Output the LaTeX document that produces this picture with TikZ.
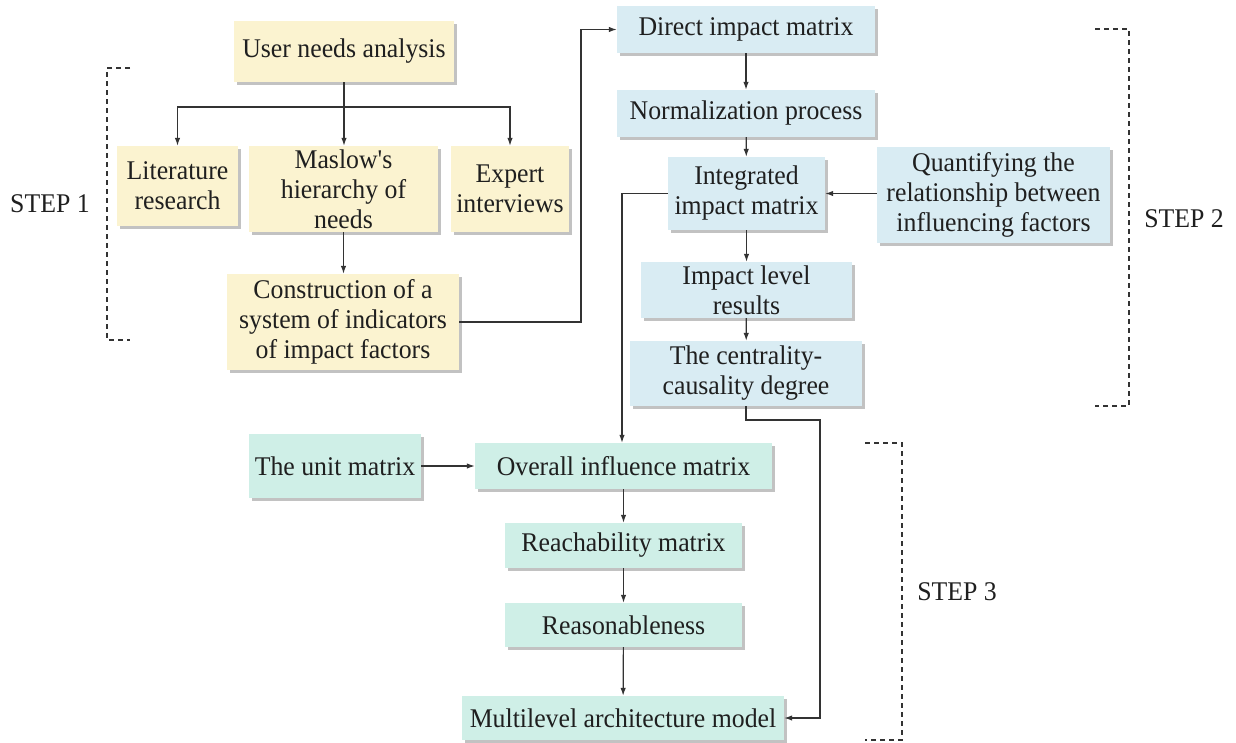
\documentclass[tikz,border=0pt]{standalone}
\usepackage{fontspec}
\setmainfont{Liberation Serif}
\newfontfamily\boxfont{Liberation Serif}[FakeStretch=0.955]
\usetikzlibrary{arrows.meta,shadows}
\definecolor{yel}{HTML}{FBF3D0}
\definecolor{blu}{HTML}{D9ECF3}
\definecolor{grn}{HTML}{CFEFE7}
\definecolor{ln}{HTML}{333333}
\begin{document}
\begin{tikzpicture}[x=1pt,y=-1pt,
  box/.style={inner sep=0pt, align=center, text=black!88,
    font=\boxfont\fontsize{27}{30}\selectfont,
    drop shadow={shadow xshift=2.5pt, shadow yshift=-2.5pt, fill=black!24, opacity=1}},
  ybox/.style={box, fill=yel},
  bbox/.style={box, fill=blu},
  gbox/.style={box, fill=grn},
  arr/.style={draw=ln, line width=1.2pt, -{Latex[length=8pt,width=5.5pt]}},
  plain/.style={draw=ln, line width=1.2pt},
  brk/.style={draw=ln, line width=1.1pt, dash pattern=on 5pt off 4pt},
  steplabel/.style={inner sep=0pt, text=black!88, font=\boxfont\fontsize{27}{30}\selectfont}]
\useasboundingbox (0,0) rectangle (1236,742);

% STEP 1 (yellow)
\node[ybox, minimum width=220pt, minimum height=61pt] (usr) at (344,51.5) {User needs analysis};
\node[ybox, minimum width=121pt, minimum height=80pt] (lit) at (177.5,186) {Literature\\research};
\node[ybox, minimum width=189pt, minimum height=86pt] (mas) at (343.5,189) {Maslow's\\hierarchy of\\needs};
\node[ybox, minimum width=118pt, minimum height=86pt] (exp) at (510,189) {Expert\\interviews};
\node[ybox, minimum width=232pt, minimum height=96pt] (con) at (343,322) {Construction of a\\system of indicators\\of impact factors};

% STEP 2 (blue)
\node[bbox, minimum width=258pt, minimum height=47pt] (dir) at (746,29.5) {Direct impact matrix};
\node[bbox, minimum width=258pt, minimum height=47pt] (nor) at (746,113.5) {Normalization process};
\node[bbox, minimum width=157pt, minimum height=73pt] (int) at (746.5,193.5) {Integrated\\impact matrix};
\node[bbox, minimum width=233pt, minimum height=96pt] (qua) at (993.5,195) {Quantifying the\\relationship between\\influencing factors};
\node[bbox, minimum width=211pt, minimum height=56pt] (imp) at (746.5,290) {Impact level\\results};
\node[bbox, minimum width=232pt, minimum height=65pt] (cen) at (746,373.5) {The centrality-\\causality degree};

% STEP 3 (green)
\node[gbox, minimum width=172pt, minimum height=64pt] (uni) at (335,466) {The unit matrix};
\node[gbox, minimum width=297pt, minimum height=46pt] (ove) at (623.5,466) {Overall influence matrix};
\node[gbox, minimum width=237pt, minimum height=45pt] (rea) at (623.5,545.5) {Reachability matrix};
\node[gbox, minimum width=237pt, minimum height=44pt] (rsn) at (623.5,625) {Reasonableness};
\node[gbox, minimum width=322pt, minimum height=44pt] (mul) at (623,718) {Multilevel architecture model};

% step labels
\node[steplabel] (s1) at (50,204) {STEP 1};
\node[steplabel] (s2) at (1184,218.5) {STEP 2};
\node[steplabel] (s3) at (957,592) {STEP 3};

% connectors STEP 1
\coordinate (br) at (344,107);
\draw[plain] (usr.south) -- (br);
\draw[arr] (br) -| (lit.north);
\draw[arr] (br) -| (exp.north);
\draw[arr] (br) -- (br |- mas.north);
\draw[arr] (mas.south) -- (mas.south |- con.north);
\coordinate (up) at (581,322);
\draw[arr] (con.east) -- (up) |- (dir.west);

% connectors STEP 2
\draw[arr] (dir) -- (nor);
\draw[arr] (nor) -- (int);
\draw[arr] (qua.west |- int.east) -- (int.east);
\draw[arr] (int) -- (imp);
\draw[arr] (imp) -- (cen);
\coordinate (tr) at (820,420);
\draw[arr] (cen.south) |- (tr) |- (mul.east);
\coordinate (dl) at (622,193.5);
\draw[arr] (int.west) -- (dl) -- (dl |- ove.north);

% connectors STEP 3
\draw[arr] (uni.east) -- (uni.east -| ove.west);
\draw[arr] (ove) -- (rea);
\draw[arr] (rea) -- (rsn);
\draw[arr] (rsn) -- (mul);

% brackets
\draw[brk] (130,68) -- (107,68) -- (107,340) -- (130,340);
\draw[brk] (1095,29) -- (1129,29) -- (1129,406) -- (1095,406);
\draw[brk] (865,443) -- (902,443) -- (902,740) -- (865,740);
\end{tikzpicture}
\end{document}
